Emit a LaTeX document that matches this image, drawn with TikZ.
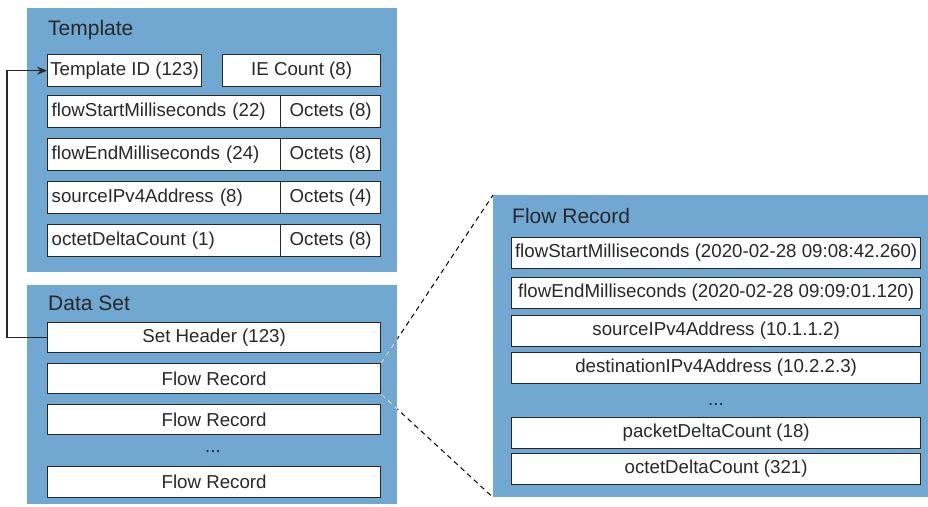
\documentclass[tikz,border=0pt]{standalone}
\usepackage{fontspec}
\setmainfont{Liberation Sans}
\usetikzlibrary{arrows.meta,positioning}
\definecolor{panelblue}{RGB}{112,168,209}
\definecolor{linegray}{RGB}{40,40,40}
\tikzstyle{panel} = [rectangle, fill=panelblue, draw=none, anchor=north west, inner sep=0pt]
\tikzstyle{title} = [anchor=west, inner sep=0pt, text=linegray, font=\fontsize{21}{25}\selectfont]
\tikzstyle{field} = [rectangle, draw=linegray, fill=white, line width=1.3pt, anchor=north west, inner sep=0pt, minimum height=32pt, font=\fontsize{18.7}{22}\selectfont, text=linegray]
\tikzstyle{namefield} = [field, text width=225pt, inner xsep=4pt, align=left]
\tikzstyle{arrow} = [line width=1.3pt, draw=linegray, -{Stealth[length=10pt,width=8pt]}]
\tikzstyle{zoomline} = [line width=1pt, dash pattern=on 5pt off 4pt]

\begin{document}
\begin{tikzpicture}[x=1pt, y=-1pt]
                \useasboundingbox (0,0) rectangle (928,506);
                % panels
                \node[panel, minimum width=370pt, minimum height=264pt] (tpl) at (27, 8) {};
                \node[panel, minimum width=370pt, minimum height=219pt] (ds) at (27, 285) {};
                \node[panel, minimum width=435pt, minimum height=302pt] (frp) at (493, 195) {};
                
                \node[title] (tpltitle) at (48, 30) {Template};
                \node[title] (dstitle) at (48, 303) {Data Set};
                \node[title] (frtitle) at (512, 216) {Flow Record};
                
                % template fields
                \node[field, minimum width=154pt] (tid) at (47, 54) {Template ID (123)};
                \node[field, minimum width=158pt] (iec) at (222, 54) {IE Count (8)};
                \node[namefield] (t1) at (47, 95) {flowStartMilliseconds (22)};
                \node[field, minimum width=100pt] (o1) at (280, 95) {Octets (8)};
                \node[namefield] (t2) at (47, 138) {flowEndMilliseconds (24)};
                \node[field, minimum width=100pt] (o2) at (280, 138) {Octets (8)};
                \node[namefield] (t3) at (47, 181) {sourceIPv4Address (8)};
                \node[field, minimum width=100pt] (o3) at (280, 181) {Octets (4)};
                \node[namefield] (t4) at (47, 224) {octetDeltaCount (1)};
                \node[field, minimum width=100pt] (o4) at (280, 224) {Octets (8)};
                
                % data set fields
                \node[field, minimum width=333pt, minimum height=30pt] (hdr) at (47, 322) {Set Header (123)};
                \node[field, minimum width=333pt, minimum height=30pt] (fr1) at (47, 363) {Flow Record};
                \node[field, minimum width=333pt, minimum height=30pt] (fr2) at (47, 404) {Flow Record};
                \node[text=linegray, font=\fontsize{18.7}{22}\selectfont] (dsdots) at (213, 451) {...};
                \node[field, minimum width=333pt, minimum height=31pt] (fr3) at (47, 466) {Flow Record};
                
                % flow record fields
                \node[field, minimum width=409pt, minimum height=31pt] (f1) at (511, 237) {flowStartMilliseconds (2020-02-28 09:08:42.260)};
                \node[field, minimum width=409pt, minimum height=31pt] (f2) at (511, 277) {flowEndMilliseconds (2020-02-28 09:09:01.120)};
                \node[field, minimum width=409pt, minimum height=31pt] (f3) at (511, 315) {sourceIPv4Address (10.1.1.2)};
                \node[field, minimum width=409pt, minimum height=31pt] (f4) at (511, 352) {destinationIPv4Address (10.2.2.3)};
                \node[text=linegray, font=\fontsize{18.7}{22}\selectfont] (frdots) at (716, 404) {...};
                \node[field, minimum width=409pt, minimum height=31pt] (f5) at (511, 417) {packetDeltaCount (18)};
                \node[field, minimum width=409pt, minimum height=31pt] (f6) at (511, 453) {octetDeltaCount (321)};
                
                % template reference
                \draw[arrow] (hdr.west) -- ++(-40, 0) |- (tid.west);
                
                % zoom lines
                \draw[zoomline] (fr1.north east) -- (frp.north west);
                \draw[zoomline] (fr1.south east) -- (frp.south west);
                \begin{scope}
                    \clip (ds.north west) rectangle (ds.south east);
                    \draw[zoomline, white] (fr1.north east) -- (frp.north west);
                    \draw[zoomline, white] (fr1.south east) -- (frp.south west);
                \end{scope}
            \end{tikzpicture}
\end{document}
